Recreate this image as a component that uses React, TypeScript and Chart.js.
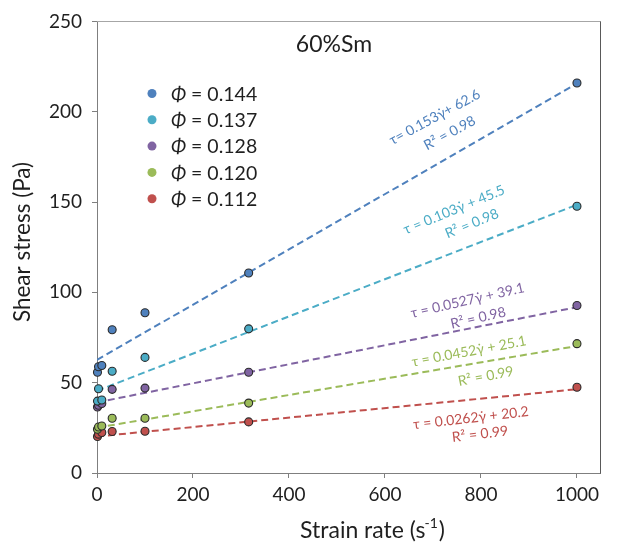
import React, { useEffect, useRef } from "react";
import { Chart, registerables } from "chart.js";

Chart.register(...registerables);

// ---------- data ----------
const strainRates = [1, 3.16, 10, 31.6, 100, 316, 1000];
const phiLabels = ["0.144", "0.137", "0.128", "0.120", "0.112"];
const stress144 = [55.8, 58.8, 59.5, 79.3, 88.7, 110.7, 215.9];
const stress137 = [39.8, 46.6, 40.4, 56.3, 64.0, 79.8, 147.7];
const stress128 = [36.5, 37.5, 38.5, 46.3, 47.0, 55.8, 92.7];
const stress120 = [24.2, 25.5, 26.0, 30.3, 30.3, 38.7, 71.6];
const stress112 = [20.2, 21.5, 22.4, 23.0, 23.1, 28.3, 47.5];
const seriesValues = [stress144, stress137, stress128, stress120, stress112];
const slopes = [0.153, 0.103, 0.0527, 0.0452, 0.0262];
const intercepts = [62.6, 45.5, 39.1, 25.1, 20.2];
const fitRange = [0, 1000];
const equationLabels = [
  "τ= 0.153γ̇+ 62.6",
  "τ = 0.103γ̇ + 45.5",
  "τ = 0.0527γ̇ + 39.1",
  "τ = 0.0452γ̇ + 25.1",
  "τ = 0.0262γ̇ + 20.2",
];
const r2Labels = ["R² = 0.98", "R² = 0.98", "R² = 0.98", "R² = 0.99", "R² = 0.99"];
const titleText = "60%Sm";
const xTitleMain = "Strain rate (s";
const xTitleSup = "-1";
const xTitleEnd = ")";
const yTitle = "Shear stress (Pa)";
const xMin = 0, xMax = 1048, xStep = 200, xTickMax = 1000;
const yMin = 0, yMax = 250, yStep = 50;

// ---------- styles / layout ----------
const colors = ["#4F81BD", "#4BACC6", "#8064A2", "#9BBB59", "#C0504D"];
const FONT = "Lato, 'Open Sans', sans-serif";
const textColor = "#1f1f1f";
// annotation placement in data coordinates + rotation (deg)
const eqPos = [
  { x: 704, y: 197.0, r2x: 735, r2y: 188.2, angle: -28.4 },
  { x: 744, y: 145.7, r2x: 781, r2y: 138.0, angle: -22.3 },
  { x: 772, y: 95.5, r2x: 794, r2y: 85.8, angle: -13 },
  { x: 775, y: 67.3, r2x: 810, r2y: 53.5, angle: -10.7 },
  { x: 779, y: 30.4, r2x: 798, r2y: 21.5, angle: -6.6 },
];

const overlayPlugin = {
  id: "overlay",
  afterDraw(chart: any) {
    const ctx = chart.ctx as CanvasRenderingContext2D;
    const { left, right, top, bottom } = chart.chartArea;
    const xs = chart.scales.x;
    const ys = chart.scales.y;
    ctx.save();
    // top / right box lines
    ctx.lineWidth = 1;
    ctx.strokeStyle = "#a6a6a6";
    ctx.beginPath();
    ctx.moveTo(left, Math.round(top) + 0.5);
    ctx.lineTo(Math.round(right) + 0.5, Math.round(top) + 0.5);
    ctx.stroke();
    ctx.strokeStyle = "#595959";
    ctx.beginPath();
    ctx.moveTo(Math.round(right) + 0.5, top);
    ctx.lineTo(Math.round(right) + 0.5, bottom + 0.5);
    ctx.stroke();

    // title
    ctx.fillStyle = textColor;
    ctx.font = `23px ${FONT}`;
    ctx.textAlign = "center";
    ctx.textBaseline = "middle";
    ctx.fillText(titleText, 334, 45);

    // legend
    const lx = 152, ly0 = 93.5, ldy = 26.3;
    phiLabels.forEach((lab, i) => {
      const y = ly0 + i * ldy;
      ctx.fillStyle = colors[i];
      ctx.beginPath();
      ctx.arc(lx, y, 4.5, 0, Math.PI * 2);
      ctx.fill();
      ctx.fillStyle = textColor;
      ctx.textAlign = "left";
      ctx.textBaseline = "middle";
      ctx.font = `italic 19.5px ${FONT}`;
      const phi = "Φ";
      ctx.fillText(phi, 171, y + 1);
      const w = ctx.measureText(phi).width;
      ctx.font = `19.5px ${FONT}`;
      ctx.fillText(" = " + lab, 171 + w, y + 1);
    });

    // equations
    eqPos.forEach((p, i) => {
      ctx.fillStyle = colors[i];
      ctx.font = `14px ${FONT}`;
      ctx.textAlign = "center";
      ctx.textBaseline = "middle";
      const a = (p.angle * Math.PI) / 180;
      ctx.save();
      ctx.translate(xs.getPixelForValue(p.x), ys.getPixelForValue(p.y));
      ctx.rotate(a);
      ctx.fillText(equationLabels[i], 0, 0);
      ctx.restore();
      ctx.save();
      ctx.translate(xs.getPixelForValue(p.r2x), ys.getPixelForValue(p.r2y));
      ctx.rotate(a);
      ctx.fillText(r2Labels[i], 0, 0);
      ctx.restore();
    });

    // y title
    ctx.fillStyle = textColor;
    ctx.font = `22.5px ${FONT}`;
    ctx.save();
    ctx.translate(23, 242);
    ctx.rotate(-Math.PI / 2);
    ctx.textAlign = "center";
    ctx.textBaseline = "middle";
    ctx.fillText(yTitle, 0, 0);
    ctx.restore();

    // x title with superscript
    ctx.font = `23px ${FONT}`;
    const wMain = ctx.measureText(xTitleMain).width;
    const wEnd = ctx.measureText(xTitleEnd).width;
    ctx.font = `14px ${FONT}`;
    const wSup = ctx.measureText(xTitleSup).width;
    const total = wMain + wSup + wEnd - 1;
    let x0 = 372 - total / 2;
    const yb = 531;
    ctx.textAlign = "left";
    ctx.textBaseline = "middle";
    ctx.font = `23px ${FONT}`;
    ctx.fillText(xTitleMain, x0, yb);
    ctx.font = `14px ${FONT}`;
    ctx.fillText(xTitleSup, x0 + wMain - 1, yb - 8);
    ctx.font = `23px ${FONT}`;
    ctx.fillText(xTitleEnd, x0 + wMain + wSup, yb);
    ctx.restore();
  },
};

export default function App() {
  const ref = useRef<HTMLCanvasElement | null>(null);
  useEffect(() => {
    if (!ref.current) return;
    const pointSets = seriesValues.map((vals, i) => ({
      label: "Φ = " + phiLabels[i],
      data: strainRates.map((x, k) => ({ x, y: vals[k] })),
      backgroundColor: colors[i],
      borderColor: "#2b2b2b",
      borderWidth: 1.1,
      pointRadius: 4,
      showLine: false,
      clip: false,
      order: 1,
    }));
    const fitSets = slopes.map((m, i) => ({
      label: "fit " + phiLabels[i],
      data: fitRange.map((x) => ({ x, y: m * x + intercepts[i] })),
      borderColor: colors[i],
      borderWidth: 2,
      borderDash: [7, 4],
      pointRadius: 0,
      showLine: true,
      fill: false,
      order: 2,
    }));
    const chart = new Chart(ref.current, {
      type: "scatter",
      data: { datasets: [...fitSets, ...pointSets] as any },
      options: {
        responsive: false,
        animation: false,
        layout: { padding: { top: 20, right: 19, left: 0, bottom: 0 } },
        plugins: { legend: { display: false }, tooltip: { enabled: false } },
        scales: {
          x: {
            type: "linear",
            min: xMin,
            max: xMax,
            afterFit: (s: any) => {
              s.height = 72;
            },
            afterBuildTicks: (s: any) => {
              s.ticks = s.ticks.filter((t: any) => t.value <= xTickMax);
            },
            ticks: {
              stepSize: xStep,
              includeBounds: false,
              color: textColor,
              font: { family: FONT, size: 19 },
              padding: 5,
              maxRotation: 0,
              callback: (v: any) => String(v),
            },
            grid: { drawOnChartArea: false, drawTicks: true, tickLength: 5, color: "#7f7f7f" },
            border: { display: true, color: "#7f7f7f", width: 1 },
          },
          y: {
            type: "linear",
            min: yMin,
            max: yMax,
            afterFit: (s: any) => {
              s.width = 97;
            },
            ticks: {
              stepSize: yStep,
              color: textColor,
              font: { family: FONT, size: 19 },
              padding: 10,
              callback: (v: any) => String(v),
            },
            grid: { drawOnChartArea: false, drawTicks: true, tickLength: 5, color: "#7f7f7f" },
            border: { display: true, color: "#7f7f7f", width: 1 },
          },
        },
      },
      plugins: [overlayPlugin],
    });
    return () => chart.destroy();
  }, []);
  return (
    <div style={{ position: "absolute", left: 0, top: 0, width: 619, height: 545, background: "#fff" }}>
      <canvas ref={ref} width={619} height={545} style={{ width: 619, height: 545, display: "block" }} />
    </div>
  );
}
